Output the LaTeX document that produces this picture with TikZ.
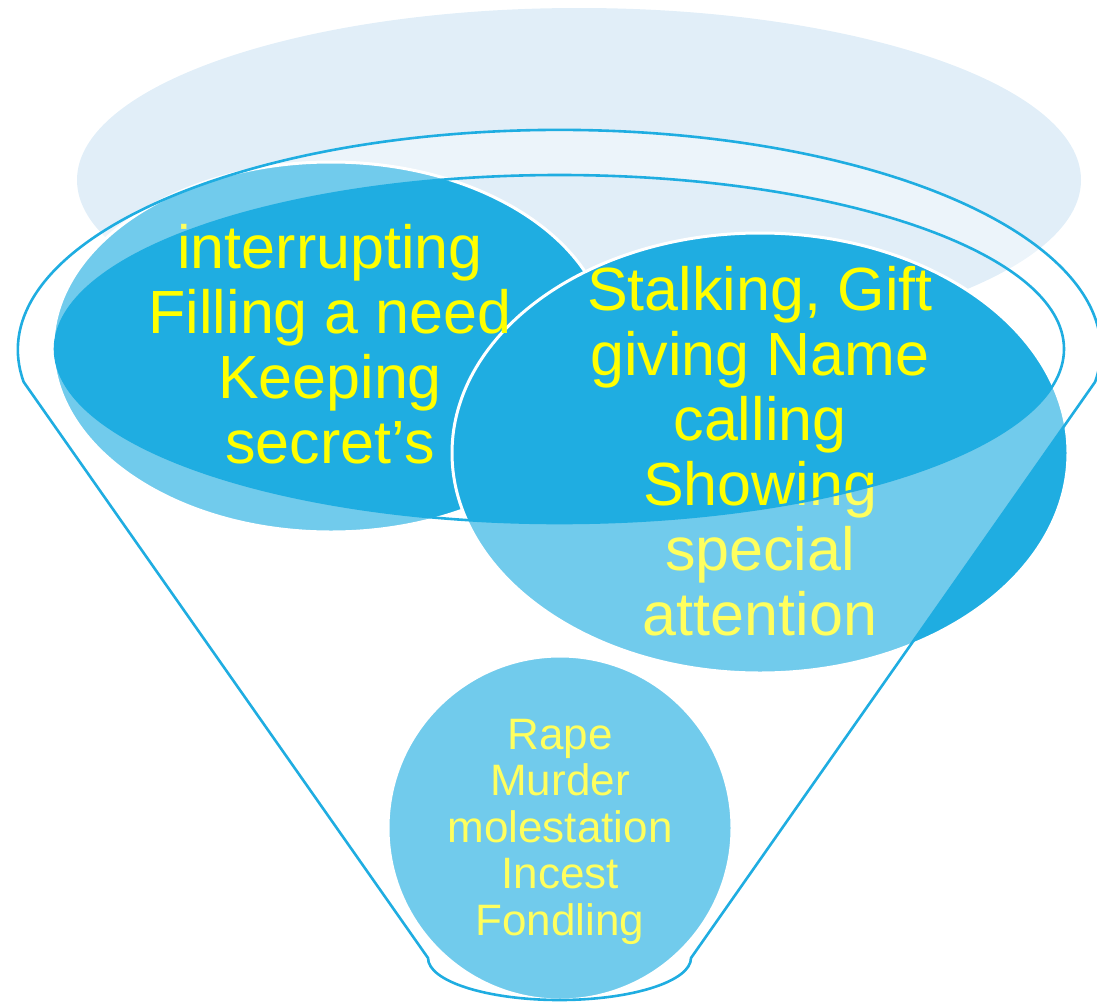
\documentclass[tikz,border=0pt]{standalone}
\usepackage{fontspec}
\setmainfont{Liberation Sans}
\definecolor{dkblue}{HTML}{1FADE1}
\definecolor{pale}{HTML}{E1EEF8}
\definecolor{txtyel}{HTML}{FFFF00}
\tikzset{
  bubble/.style={fill=dkblue, draw=white, line width=3pt},
  bigtxt/.style={anchor=base, text=txtyel, inner sep=0pt, font=\fontsize{61}{65}\selectfont},
  smalltxt/.style={anchor=base, text=txtyel, inner sep=0pt, font=\fontsize{44}{46.5}\selectfont},
  funnel/.style={fill=white, fill opacity=0.37, draw=dkblue, line width=2.6pt, even odd rule, line join=round}
}
\begin{document}
\begin{tikzpicture}[x=1pt,y=-1pt]
\path[use as bounding box] (0,0) rectangle (1097,1001);
\clip (0,0) rectangle (1097,1001);
% pale background ellipse
\fill[pale] (579,180) ellipse[x radius=502, y radius=172];
% circles
\path[bubble] (331,347) ellipse[x radius=278, y radius=185];
\path[bubble] (760,453) ellipse[x radius=308, y radius=220];
\path[bubble] (560,828) circle[radius=172];
% texts
\node[bigtxt] (lefttext) at (330,268) {\begin{tabular}[t]{@{}c@{}}interrupting\\Filling a need\\Keeping\\secret’s\end{tabular}};
\node[bigtxt] (righttext) at (760,310) {\begin{tabular}[t]{@{}c@{}}Stalking, Gift\\giving Name\\calling\\Showing\\special\\attention\end{tabular}};
\node[smalltxt] (bottomtext) at (560,749) {\begin{tabular}[t]{@{}c@{}}Rape\\Murder\\molestation\\Incest\\Fondling\end{tabular}};
% funnel body overlay and outline
\path[funnel] (23.7,382) arc[start angle=171.6, end angle=368.4, x radius=541.5, y radius=220]
  -- (691,958) arc[start angle=0, end angle=180, x radius=131.5, y radius=42] -- cycle
  (559.5,349) ellipse[x radius=504.5, y radius=174];
\end{tikzpicture}
\end{document}
